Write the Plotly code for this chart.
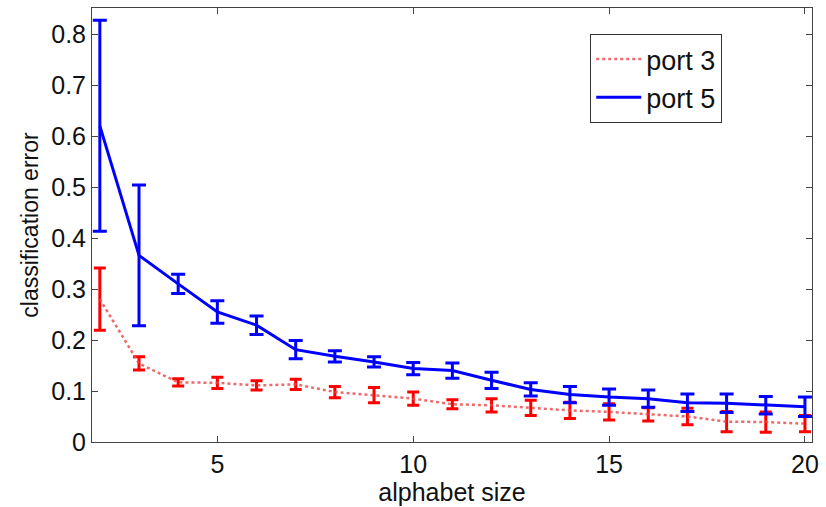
import plotly.graph_objects as go

x = list(range(2, 21))
port3 = [0.280, 0.154, 0.117, 0.116, 0.111, 0.113, 0.098, 0.092, 0.085, 0.074,
         0.072, 0.067, 0.062, 0.059, 0.054, 0.050, 0.040, 0.039, 0.036]
port3_err = [0.061, 0.013, 0.007, 0.011, 0.009, 0.010, 0.011, 0.015, 0.013, 0.009,
             0.013, 0.015, 0.016, 0.016, 0.013, 0.016, 0.020, 0.020, 0.016]
port5 = [0.620, 0.366, 0.310, 0.255, 0.229, 0.181, 0.168, 0.157, 0.144, 0.140,
         0.121, 0.103, 0.093, 0.088, 0.085, 0.077, 0.076, 0.072, 0.069]
port5_err = [0.207, 0.138, 0.019, 0.022, 0.018, 0.018, 0.011, 0.010, 0.012, 0.015,
             0.016, 0.013, 0.016, 0.016, 0.017, 0.017, 0.018, 0.017, 0.019]

fig = go.Figure()
fig.add_trace(go.Scatter(
    x=x, y=port3, mode="lines", name="port 3",
    line=dict(color="rgba(235,70,70,0.8)", width=2.5, dash="dot"),
    error_y=dict(type="data", array=port3_err, visible=True,
                 color="#ff0000", thickness=3, width=6),
))
fig.add_trace(go.Scatter(
    x=x, y=port5, mode="lines", name="port 5",
    line=dict(color="#0000ff", width=3),
    error_y=dict(type="data", array=port5_err, visible=True,
                 color="#0000ff", thickness=3, width=7),
))

axis_common = dict(
    showline=True, linecolor="#444", linewidth=1, mirror="ticks",
    ticks="inside", ticklen=6, tickcolor="#444", showgrid=False, zeroline=False,
    tickfont=dict(family="Liberation Sans, Arial", size=25, color="#111"),
)

fig.update_layout(
    width=826, height=507,
    margin=dict(l=92, r=10, t=7, b=65),
    paper_bgcolor="white", plot_bgcolor="white",
    font=dict(family="Liberation Sans, Arial", color="#111"),
    xaxis=dict(range=[1.8, 20.18], tickvals=[5, 10, 15, 20],
               title=dict(text="alphabet size", font=dict(size=25), standoff=0),
               **axis_common),
    yaxis=dict(range=[0, 0.851], tickvals=[0, 0.1, 0.2, 0.3, 0.4, 0.5, 0.6, 0.7, 0.8],
               ticktext=["0", "0.1", "0.2", "0.3", "0.4", "0.5", "0.6", "0.7", "0.8"],
               title=dict(text="classification error", font=dict(size=23), standoff=6),
               **axis_common),
    legend=dict(x=0.692, y=0.94, xanchor="left", yanchor="top",
                bordercolor="#333", borderwidth=1, bgcolor="white",
                font=dict(family="Liberation Sans, Arial", size=27, color="#111"),
                itemwidth=45, tracegroupgap=0),
    showlegend=True,
)

fig.write_html("out.html")
